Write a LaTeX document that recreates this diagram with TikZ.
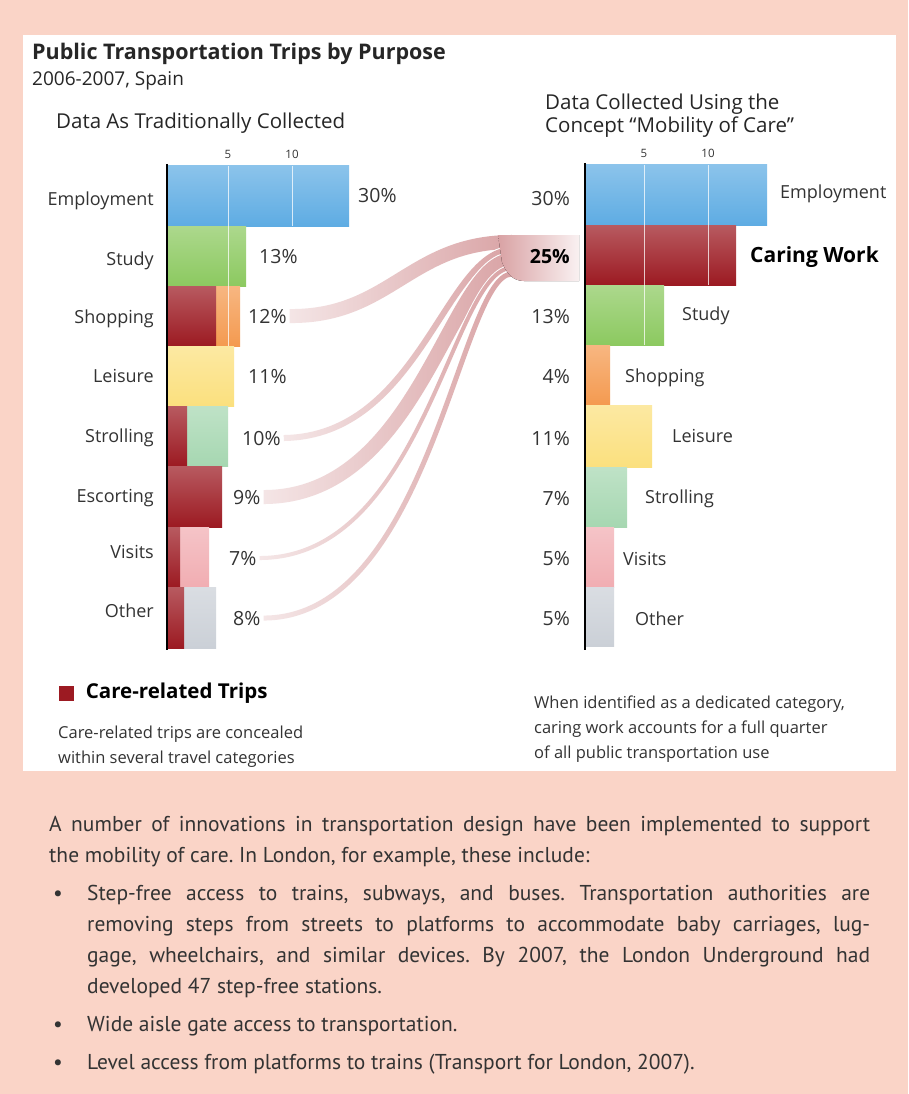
\documentclass[tikz,border=0pt]{standalone}
\usepackage{fontspec}
\setmainfont{Open Sans}
\newfontfamily\bodyfont{PT Sans}
\usepackage{xcolor}
\usetikzlibrary{positioning,calc,fadings}

\definecolor{pagepink}{HTML}{FAD4C7}
\definecolor{inkgrey}{HTML}{333333}
\definecolor{jobblue}{HTML}{5EACE3}
\definecolor{studygreen}{HTML}{8CC960}
\definecolor{carered}{HTML}{9C1A22}
\definecolor{shoporange}{HTML}{F49A50}
\definecolor{leisureyellow}{HTML}{FBE07E}
\definecolor{strollmint}{HTML}{A6D7B1}
\definecolor{visitpink}{HTML}{F1ADB2}
\definecolor{othergrey}{HTML}{CBD0D7}
\definecolor{ribbonrose}{HTML}{D9A2A4}
\tikzfading[name=ribbonfade, left color=transparent!75, right color=transparent!0]

\begin{document}
\begin{tikzpicture}[x=1pt, y=-1pt,
    bar/.style={top color=#1!72!white, bottom color=#1},
    gridline/.style={white, opacity=0.75, line width=0.9pt},
    axisline/.style={black, line width=1.6pt},
    cat/.style={font=\fontsize{18}{20}\selectfont, text=inkgrey, inner sep=0pt},
    pct/.style={font=\fontsize{19.5}{20}\selectfont, text=inkgrey, inner sep=0pt},
    ticklbl/.style={font=\fontsize{11.5}{14}\selectfont, text=inkgrey, inner sep=0pt},
    head/.style={font=\fontsize{20.5}{23}\selectfont, text=black!85, inner sep=0pt, anchor=base west},
    ribbon/.style={draw=ribbonrose, line width=#1, path fading=ribbonfade,
      preaction={draw=white, line width=#1+2pt}},
    note/.style={font=\fontsize{16.5}{25}\selectfont, text=inkgrey, inner sep=0pt, align=left, anchor=north west},
  ]
  % page and panel
  \fill[pagepink] (0,0) rectangle (908,1094);
  \fill[white] (23,35) rectangle (896,771);

  \node[head, font=\bfseries\fontsize{21.5}{23}\selectfont] (title) at (32,60) {Public Transportation Trips by Purpose};
  \node[head, font=\fontsize{19}{20}\selectfont] (place) at (32,86) {2006-2007, Spain};
  \node[head] (lhead) at (56,129) {Data As Traditionally Collected};
  \node[head] (rhead) at (545,110) {Data Collected Using the};
  \node[head] (rhead2) at (545,133) {Concept ``Mobility of Care''};

  % left panel: data as traditionally collected
  \fill[bar=jobblue] (167,166) rectangle (349,226);
  \fill[bar=studygreen] (167,226) rectangle (246,286);
  \fill[bar=shoporange] (167,286) rectangle (240,346);
  \fill[bar=carered] (167,286) rectangle (216,346);
  \fill[bar=leisureyellow] (167,346) rectangle (234,406);
  \fill[bar=strollmint] (167,406) rectangle (228,466);
  \fill[bar=carered] (167,406) rectangle (187,466);
  \fill[bar=carered] (167,466) rectangle (222,527);
  \fill[bar=visitpink] (167,527) rectangle (209,587);
  \fill[bar=carered] (167,527) rectangle (180,587);
  \fill[bar=othergrey] (167,587) rectangle (216,648);
  \fill[bar=carered] (167,587) rectangle (184,648);
  \draw[gridline] (228,166) -- (228,346) (292,166) -- (292,226);
  \draw[axisline] (167,164) -- (167,650);
  \node[ticklbl] (lt5) at (228,154) {5};
  \node[ticklbl] (lt10) at (292,154) {10};

  % right panel: mobility of care
  \fill[bar=jobblue] (585,165) rectangle (767,225);
  \fill[bar=carered] (585,225) rectangle (736,285);
  \fill[bar=studygreen] (585,285) rectangle (664,345);
  \fill[bar=shoporange] (585,345) rectangle (610,405);
  \fill[bar=leisureyellow] (585,405) rectangle (652,467);
  \fill[bar=strollmint] (585,467) rectangle (627,527);
  \fill[bar=visitpink] (585,527) rectangle (614,587);
  \fill[bar=othergrey] (585,587) rectangle (614,646);
  \draw[gridline] (644,165) -- (644,345) (708,165) -- (708,285);
  \draw[axisline] (585,163) -- (585,650);
  \node[ticklbl] (rt5) at (644,153) {5};
  \node[ticklbl] (rt10) at (708,153) {10};

  \node[cat, anchor=base east] (lemp) at (154,205) {Employment};
  \node[cat, anchor=base east] (lstudy) at (154,265) {Study};
  \node[cat, anchor=base east] (lshop) at (154,323) {Shopping};
  \node[cat, anchor=base east] (lleis) at (154,382) {Leisure};
  \node[cat, anchor=base east] (lstroll) at (154,442) {Strolling};
  \node[cat, anchor=base east] (lesc) at (154,502) {Escorting};
  \node[cat, anchor=base east] (lvisit) at (154,558) {Visits};
  \node[cat, anchor=base east] (lother) at (154,617) {Other};

  \node[pct, anchor=base west] (l30) at (358,203) {30\%};
  \node[pct, anchor=base west] (l13) at (259,263) {13\%};
  \node[pct, anchor=base west] (l12) at (248,323) {12\%};
  \node[pct, anchor=base west] (l11) at (248,383) {11\%};
  \node[pct, anchor=base west] (l10) at (242,445) {10\%};
  \node[pct, anchor=base west] (l9) at (233,504) {9\%};
  \node[pct, anchor=base west] (l7) at (229,565) {7\%};
  \node[pct, anchor=base west] (l8) at (233,625) {8\%};

  % care flows into the caring work bar
  \coordinate (m1) at (512,242);
  \coordinate (m2) at (512,250);
  \coordinate (m3) at (512,260);
  \coordinate (m4) at (512,268);
  \coordinate (m5) at (512,274);
  \draw[ribbon=14pt] ([xshift=3pt]l12.east) .. controls (390,317) and (410,242) .. (m1);
  \draw[ribbon=6pt] ([xshift=3pt]l10.east) .. controls (420,436) and (445,250) .. (m2);
  \draw[ribbon=14pt] ([xshift=3pt]l9.east) .. controls (420,497) and (450,260) .. (m3);
  \draw[ribbon=4pt] ([xshift=3pt]l7.east) .. controls (425,558) and (452,268) .. (m4);
  \draw[ribbon=5pt] ([xshift=3pt]l8.east) .. controls (430,618) and (460,274) .. (m5);
  % trunk behind 25%
  \fill[left color=ribbonrose, right color=ribbonrose!15!white] (498,235) -- (579,235) -- (579,281) -- (524,281)
    .. controls (512,281) and (506,272) .. (502,262) -- cycle;

  \node[pct, anchor=base east] (r30) at (570,205) {30\%};
  \node[pct, anchor=base east, font=\bfseries\fontsize{19.5}{20}\selectfont, text=black] (r25) at (570,263) {25\%};
  \node[pct, anchor=base east] (r13) at (570,323) {13\%};
  \node[pct, anchor=base east] (r4) at (570,383) {4\%};
  \node[pct, anchor=base east] (r11) at (570,445) {11\%};
  \node[pct, anchor=base east] (r7) at (570,505) {7\%};
  \node[pct, anchor=base east] (r5v) at (570,565) {5\%};
  \node[pct, anchor=base east] (r5o) at (570,625) {5\%};

  \node[cat, anchor=base west] (remp) at (780,198) {Employment};
  \node[cat, anchor=base west, font=\bfseries\fontsize{21}{22}\selectfont, text=black] (rcare) at (750,262) {Caring Work};
  \node[cat, anchor=base west] (rstudy) at (682,320) {Study};
  \node[cat, anchor=base west] (rshop) at (625,382) {Shopping};
  \node[cat, anchor=base west] (rleis) at (672,442) {Leisure};
  \node[cat, anchor=base west] (rstroll) at (645,503) {Strolling};
  \node[cat, anchor=base west] (rvisit) at (623,565) {Visits};
  \node[cat, anchor=base west] (rother) at (635,625) {Other};

  % legend and notes
  \node[fill=carered, minimum size=15pt, inner sep=0pt] (legsq) at (66,693) {};
  \node[right=12pt of legsq, inner sep=0pt, font=\bfseries\fontsize{20.5}{22}\selectfont, text=black] (legtxt) {Care-related Trips};
  \node[note] (lnote) at (58,726) {Care-related trips are concealed\\within several travel categories};
  \node[note] (rnote) at (534,696) {When identified as a dedicated category,\\caring work accounts for a full quarter\\of all public transportation use};

  % text below the figure
  \node[anchor=north west, text width=821pt, align=justify, inner sep=0pt, text=inkgrey,
        font=\bodyfont\fontsize{21.5}{31}\selectfont] (body) at (49,816) {%
    \parskip=7pt \hyphenpenalty=10000 \tolerance=9999 \frenchspacing
    A number of innovations in transportation design have been implemented to support\linebreak
    the mobility of care. In London, for example, these include:\par
    {\leftskip=38pt \noindent\llap{\makebox[34pt][l]{\textbullet}}Step-free access to trains, subways, and buses. Transportation authorities are\linebreak
    removing steps from streets to platforms to accommodate baby carriages, lug-\linebreak
    gage, wheelchairs, and similar devices. By 2007, the London Underground had\linebreak
    developed 47 step-free stations.\par}
    {\leftskip=38pt \noindent\llap{\makebox[34pt][l]{\textbullet}}Wide aisle gate access to transportation.\par}
    {\leftskip=38pt \noindent\llap{\makebox[34pt][l]{\textbullet}}Level access from platforms to trains (Transport for London, 2007).\par}};
\end{tikzpicture}
\end{document}
